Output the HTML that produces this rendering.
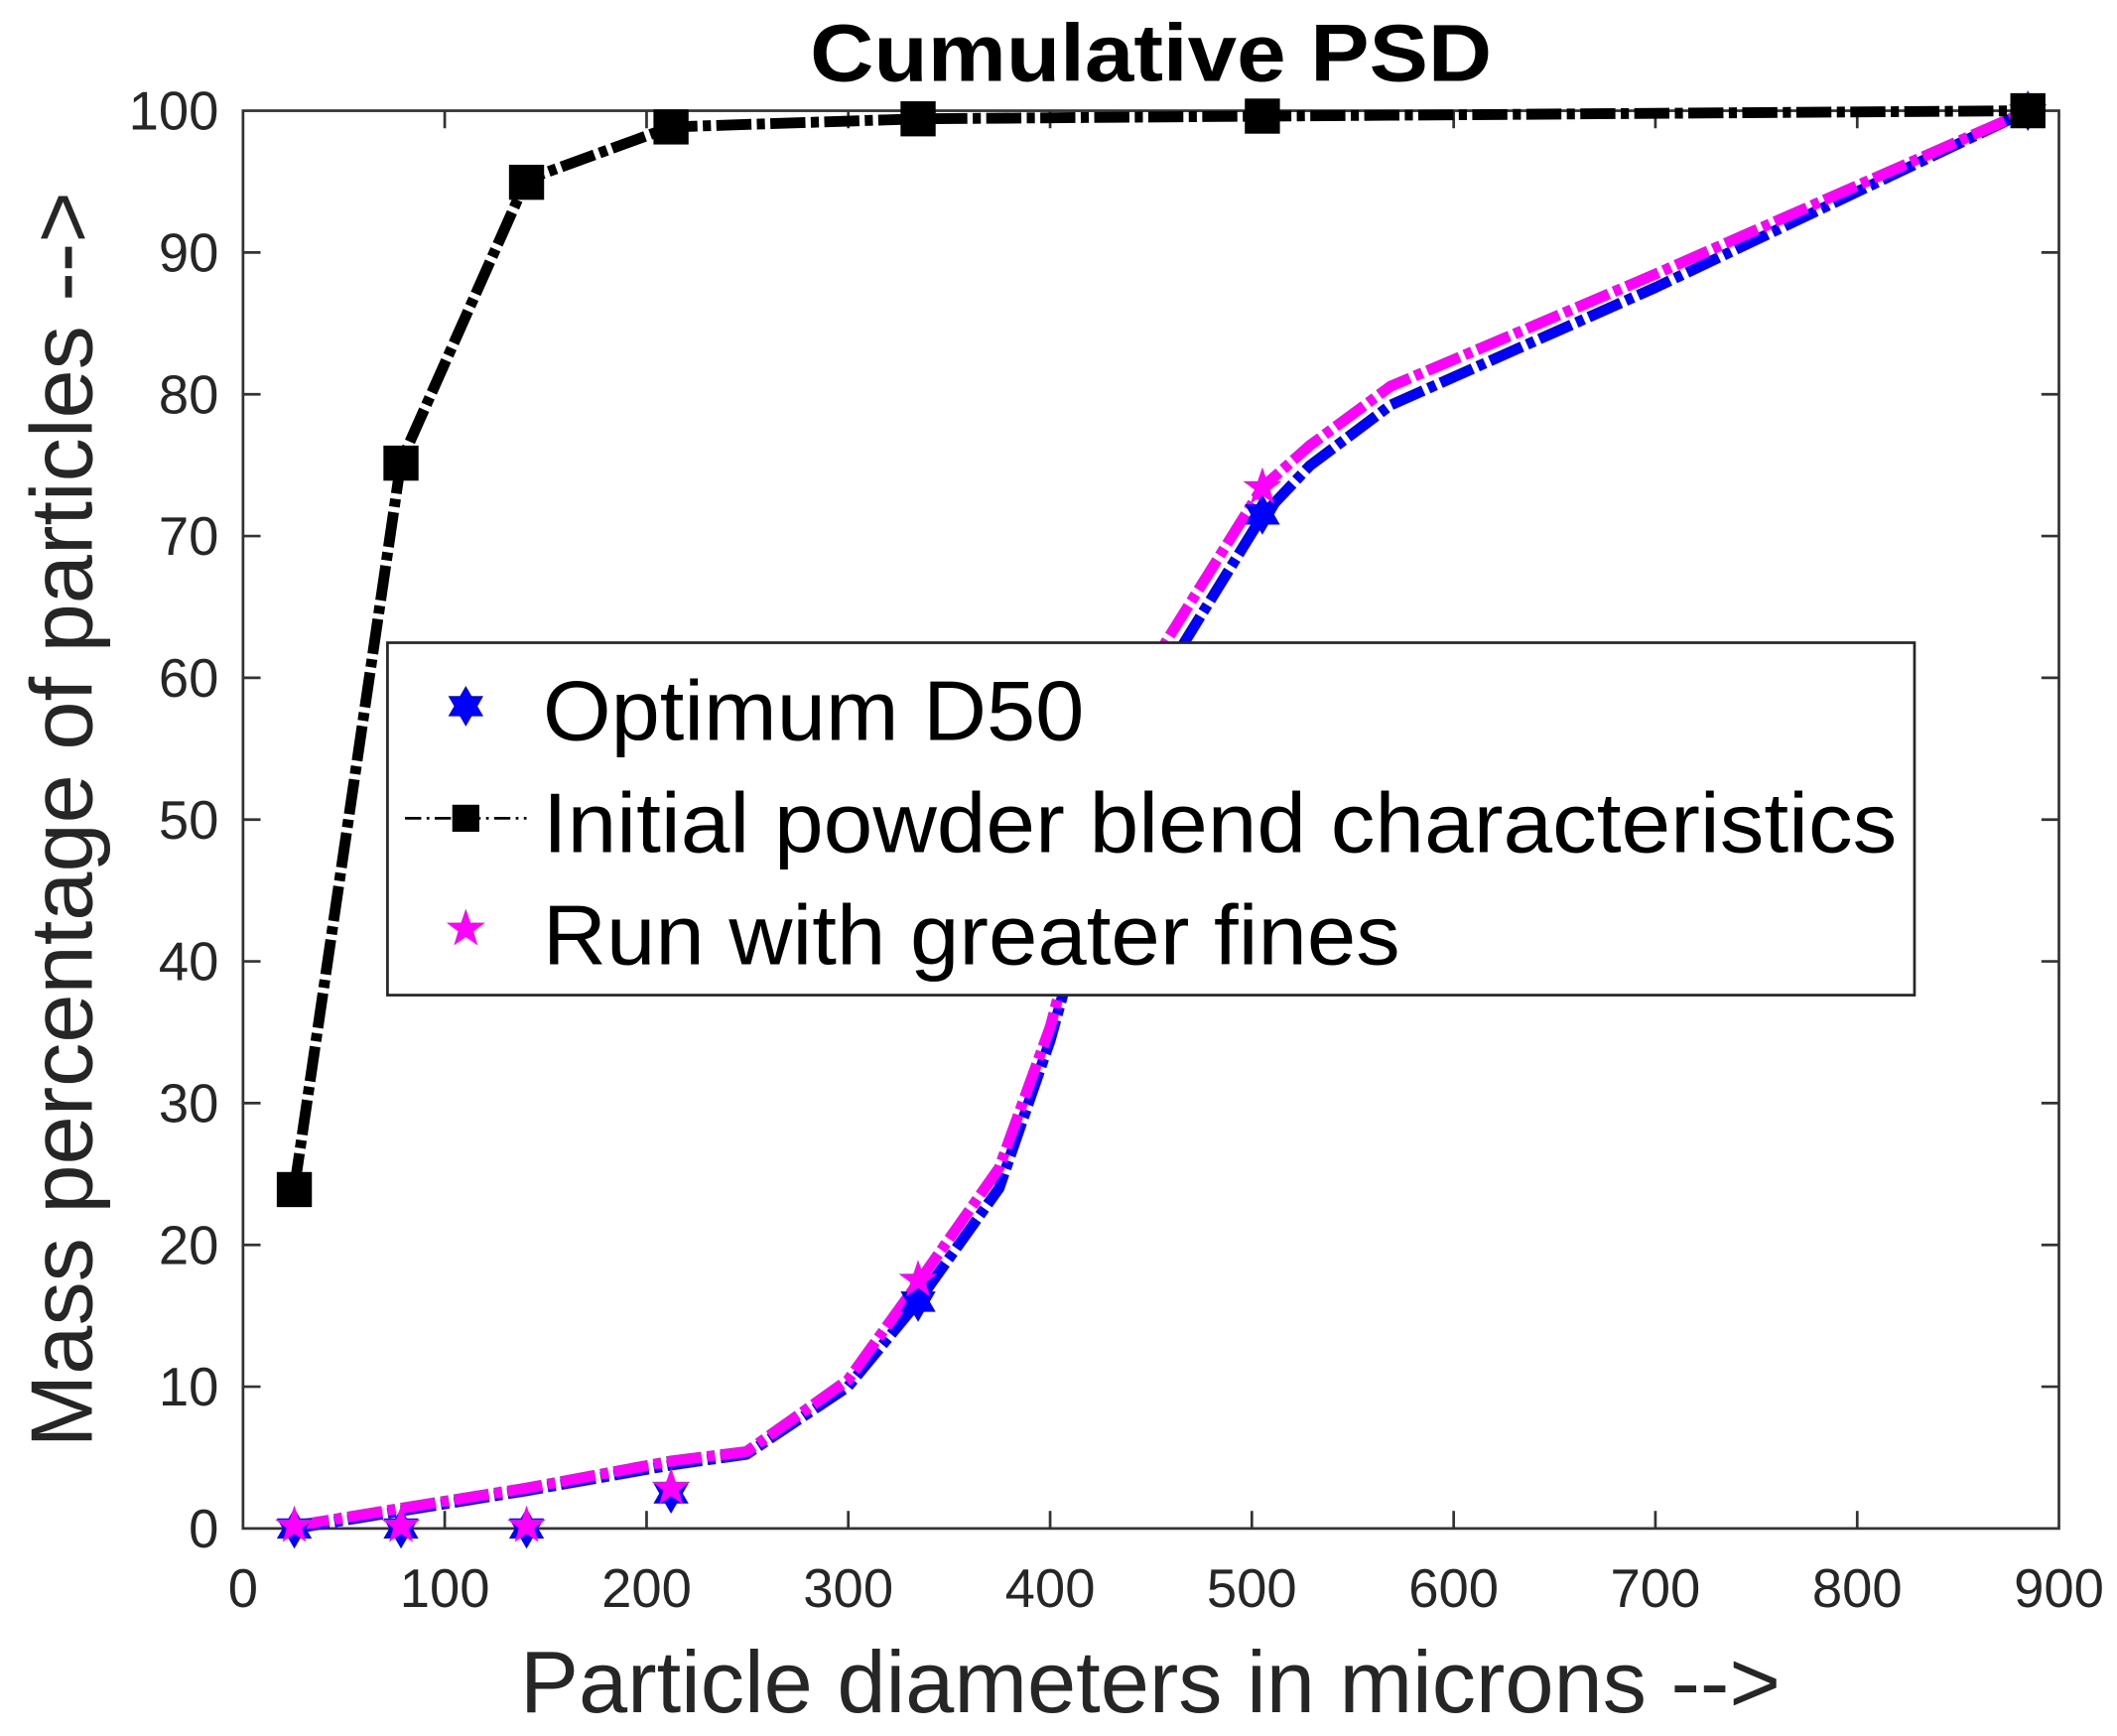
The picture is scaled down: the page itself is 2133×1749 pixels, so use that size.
<!DOCTYPE html>
<html><head><meta charset="utf-8"><style>html,body{margin:0;padding:0;background:#fff}svg{display:block}</style></head>
<body>
<svg width="2133" height="1749" viewBox="0 0 1568 1285.7" xmlns="http://www.w3.org/2000/svg" font-family="Liberation Sans, sans-serif">
<rect width="1568" height="1286" fill="#fff"/>
<defs>
<g id="sq"><rect x="-13" y="-13" width="26" height="26" fill="#000"/></g>
<g id="hex"><polygon points="0,-15 13,7.5 -13,7.5" fill="#0000ff"/><polygon points="0,15 13,-7.5 -13,-7.5" fill="#0000ff"/></g>
<g id="pent"><polygon points="0,-15 3.5,-4.7 14.3,-4.6 5.7,1.8 8.8,12.1 0,5.9 -8.8,12.1 -5.7,1.8 -14.3,-4.6 -3.5,-4.7" fill="#ff00ff"/></g>
</defs>
<rect x="180" y="82" width="1345" height="1050" fill="none" stroke="#333" stroke-width="2"/>
<g stroke="#333" stroke-width="2">
<line x1="329.4" y1="1132" x2="329.4" y2="1119"/><line x1="478.9" y1="1132" x2="478.9" y2="1119"/><line x1="628.3" y1="1132" x2="628.3" y2="1119"/><line x1="777.8" y1="1132" x2="777.8" y2="1119"/><line x1="927.2" y1="1132" x2="927.2" y2="1119"/><line x1="1076.7" y1="1132" x2="1076.7" y2="1119"/><line x1="1226.1" y1="1132" x2="1226.1" y2="1119"/><line x1="1375.6" y1="1132" x2="1375.6" y2="1119"/>
<line x1="329.4" y1="82" x2="329.4" y2="95"/><line x1="478.9" y1="82" x2="478.9" y2="95"/><line x1="628.3" y1="82" x2="628.3" y2="95"/><line x1="777.8" y1="82" x2="777.8" y2="95"/><line x1="927.2" y1="82" x2="927.2" y2="95"/><line x1="1076.7" y1="82" x2="1076.7" y2="95"/><line x1="1226.1" y1="82" x2="1226.1" y2="95"/><line x1="1375.6" y1="82" x2="1375.6" y2="95"/>
<line x1="180" y1="1027" x2="193" y2="1027"/><line x1="180" y1="922" x2="193" y2="922"/><line x1="180" y1="817" x2="193" y2="817"/><line x1="180" y1="712" x2="193" y2="712"/><line x1="180" y1="607" x2="193" y2="607"/><line x1="180" y1="502" x2="193" y2="502"/><line x1="180" y1="397" x2="193" y2="397"/><line x1="180" y1="292" x2="193" y2="292"/><line x1="180" y1="187" x2="193" y2="187"/>
<line x1="1525" y1="1027" x2="1512" y2="1027"/><line x1="1525" y1="922" x2="1512" y2="922"/><line x1="1525" y1="817" x2="1512" y2="817"/><line x1="1525" y1="712" x2="1512" y2="712"/><line x1="1525" y1="607" x2="1512" y2="607"/><line x1="1525" y1="502" x2="1512" y2="502"/><line x1="1525" y1="397" x2="1512" y2="397"/><line x1="1525" y1="292" x2="1512" y2="292"/><line x1="1525" y1="187" x2="1512" y2="187"/>
</g>
<g font-size="40" fill="#262626" text-anchor="middle">
<text x="180" y="1190">0</text><text x="329.4" y="1190">100</text><text x="478.9" y="1190">200</text><text x="628.3" y="1190">300</text><text x="777.8" y="1190">400</text><text x="927.2" y="1190">500</text><text x="1076.7" y="1190">600</text><text x="1226.1" y="1190">700</text><text x="1375.6" y="1190">800</text><text x="1525" y="1190">900</text>
</g>
<g font-size="40" fill="#262626" text-anchor="end">
<text x="162" y="1146">0</text><text x="162" y="1041">10</text><text x="162" y="936">20</text><text x="162" y="831">30</text><text x="162" y="726">40</text><text x="162" y="621">50</text><text x="162" y="516">60</text><text x="162" y="411">70</text><text x="162" y="306">80</text><text x="162" y="201">90</text><text x="162" y="96">100</text>
</g>
<text x="600" y="60" font-size="60" font-weight="bold" textLength="505" lengthAdjust="spacingAndGlyphs" fill="#000">Cumulative PSD</text>
<text x="852" y="1268" font-size="65" text-anchor="middle" fill="#262626">Particle diameters in microns --&gt;</text>
<text transform="translate(68,607) rotate(-90)" font-size="65" text-anchor="middle" fill="#262626">Mass percentage of particles --&gt;</text>
<g fill="none" stroke-width="8" stroke-linejoin="round" stroke-dasharray="26,4,6,4">
<polyline stroke="#0000ff" points="218,1132 297,1119 390,1104 497,1085 553,1077 628,1027 680,964 740,880 778,770 845,528 935,382 970,345 1030,300 1120,260 1226,213 1502,82"/>
<polyline stroke="#ff00ff" points="218,1130 297,1117 390,1102 497,1082 553,1075 628,1022 680,950 740,865 778,760 845,505 935,361 970,330 1030,286 1120,248 1226,203 1502,82"/>
<polyline stroke="#000" points="218,880 297,342 390,133 497,94 680,88 935,86 1502,82"/>
</g>
<use href="#hex" x="218" y="1132"/><use href="#hex" x="297" y="1132"/><use href="#hex" x="390" y="1132"/><use href="#hex" x="497" y="1106"/><use href="#hex" x="680" y="964"/><use href="#hex" x="935" y="381"/><use href="#hex" x="1502" y="82"/>
<use href="#pent" x="218" y="1130"/><use href="#pent" x="297" y="1130"/><use href="#pent" x="390" y="1130"/><use href="#pent" x="497" y="1102"/><use href="#pent" x="680" y="948"/><use href="#pent" x="935" y="361"/><use href="#pent" x="1502" y="82"/>
<use href="#sq" x="218" y="881"/><use href="#sq" x="297" y="343"/><use href="#sq" x="390" y="135"/><use href="#sq" x="497" y="94"/><use href="#sq" x="680" y="88"/><use href="#sq" x="935" y="86"/><use href="#sq" x="1502" y="82"/>
<rect x="287" y="476" width="1131" height="261" fill="#fff" stroke="#262626" stroke-width="2"/>
<use href="#hex" x="345" y="523"/>
<line x1="300" y1="606" x2="390" y2="606" stroke="#000" stroke-width="2" stroke-dasharray="12,4,2,4"/>
<rect x="335" y="596" width="20" height="20" fill="#000"/>
<use href="#pent" x="345" y="688"/>
<g font-size="63" fill="#000">
<text x="402" y="548" textLength="401" lengthAdjust="spacingAndGlyphs">Optimum D50</text>
<text x="402" y="631" textLength="1003" lengthAdjust="spacingAndGlyphs">Initial powder blend characteristics</text>
<text x="402" y="714" textLength="635" lengthAdjust="spacingAndGlyphs">Run with greater fines</text>
</g>
</svg>
</body></html>
